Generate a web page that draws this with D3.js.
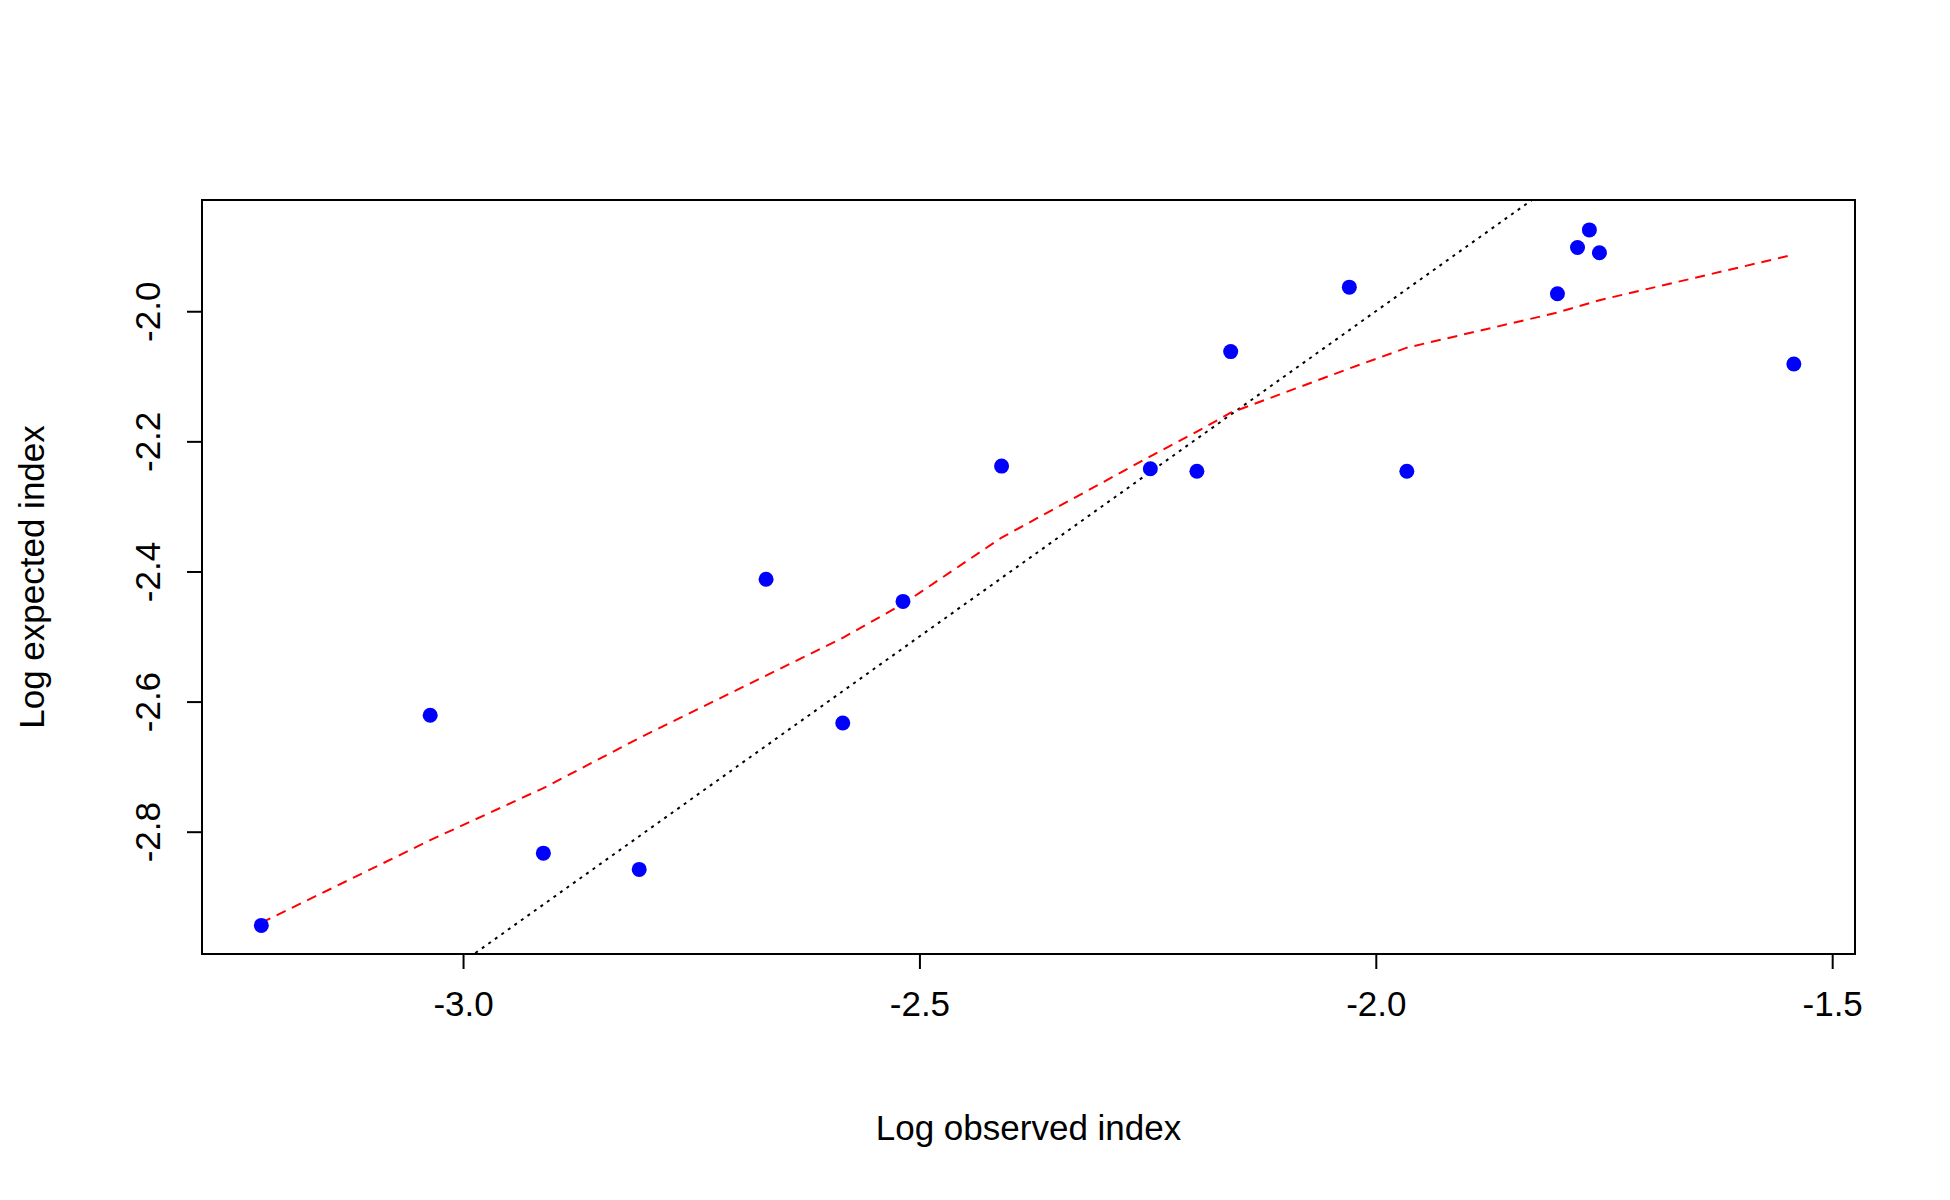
<!DOCTYPE html>
<html><head><meta charset="utf-8">
<script src="https://cdn.jsdelivr.net/npm/d3@7"></script>
<style>body{margin:0;background:#fff}text{font-family:"Liberation Sans",Arial,sans-serif}</style>
</head><body><div id="chart"></div>
<script>
// observed vs expected (log scale)
var obsX = [-3.221,-3.036,-2.912,-2.807,-2.668,-2.584,-2.518,-2.410,-2.247,-2.196,-2.159,-2.029,-1.966,-1.801,-1.779,-1.766,-1.755,-1.542];
var expY = [-2.944,-2.621,-2.833,-2.858,-2.412,-2.633,-2.446,-2.238,-2.242,-2.246,-2.062,-1.963,-2.246,-1.973,-1.902,-1.875,-1.910,-2.081];
// smoothed fit
var fitX = [-3.221,-3.036,-2.912,-2.807,-2.668,-2.584,-2.518,-2.410,-2.247,-2.196,-2.159,-2.029,-1.966,-1.801,-1.755,-1.542];
var fitY = [-2.940,-2.813,-2.733,-2.656,-2.560,-2.502,-2.450,-2.348,-2.223,-2.185,-2.156,-2.088,-2.056,-2.002,-1.983,-1.913];
var xTicks = [-3.0,-2.5,-2.0,-1.5];
var yTicks = [-2.8,-2.6,-2.4,-2.2,-2.0];

var width = 1950, height = 1200;
var mLeft = 202, mRight = 1855, mTop = 200, mBottom = 954;
var fmt = function(d){ return d.toFixed(1); };

var svg = d3.select("#chart").append("svg").attr("width", width).attr("height", height);
var x = d3.scaleLinear().domain([-3.286,-1.475]).range([mLeft,mRight]);
var y = d3.scaleLinear().domain([-2.988,-1.829]).range([mBottom,mTop]);

svg.append("defs").append("clipPath").attr("id","clip")
  .append("rect").attr("x",mLeft).attr("y",mTop).attr("width",mRight-mLeft).attr("height",mBottom-mTop);

//identity line
svg.append("line").attr("clip-path","url(#clip)")
  .attr("x1",x(-4)).attr("y1",y(-4)).attr("x2",x(-1)).attr("y2",y(-1))
  .attr("stroke","black").attr("stroke-width",2).attr("stroke-dasharray","3,5");

svg.append("path").datum(fitX.map(function(d,i){return [d,fitY[i]];}))
  .attr("d", d3.line().x(function(d){return x(d[0]);}).y(function(d){return y(d[1]);}))
  .attr("fill","none").attr("stroke","red").attr("stroke-width",2).attr("stroke-dasharray","10,7");

svg.selectAll("circle").data(obsX).enter().append("circle")
  .attr("cx", function(d){return x(d);})
  .attr("cy", function(d,i){return y(expY[i]);})
  .attr("r",7.5).attr("fill","blue");

svg.append("rect").attr("x",mLeft).attr("y",mTop).attr("width",mRight-mLeft).attr("height",mBottom-mTop)
  .attr("fill","none").attr("stroke","black").attr("stroke-width",2);

var xa = svg.append("g").attr("transform","translate(0,"+mBottom+")")
  .call(d3.axisBottom(x).tickValues(xTicks).tickFormat(fmt).tickSize(15).tickPadding(22));
var ya = svg.append("g").attr("transform","translate("+mLeft+",0)")
  .call(d3.axisLeft(y).tickValues(yTicks).tickFormat(fmt).tickSize(15));
[xa,ya].forEach(function(a){
  a.select(".domain").remove();
  a.selectAll("line").attr("stroke-width",2);
  a.selectAll("text").attr("font-size",35).attr("fill","black").style("font-family","Liberation Sans, Arial");
});
// x axis line between first and last tick
svg.append("line").attr("x1",x(-3.0)).attr("x2",x(-1.5)).attr("y1",mBottom).attr("y2",mBottom)
  .attr("stroke","black").attr("stroke-width",2);
// y axis line between first and last tick
svg.append("line").attr("x1",mLeft-0).attr("x2",mLeft).attr("y1",y(-2.8)).attr("y2",y(-2.0))
  .attr("stroke","black").attr("stroke-width",2);
// rotated y tick labels
ya.selectAll(".tick text").attr("x",null).attr("dy",null).attr("text-anchor","middle")
  .attr("transform","translate(-42,0) rotate(-90)");

svg.append("text").attr("x",(mLeft+mRight)/2).attr("y",1140).attr("text-anchor","middle")
  .attr("font-size",35).text("Log observed index");
svg.append("text").attr("transform","translate(44,"+((mTop+mBottom)/2)+") rotate(-90)")
  .attr("text-anchor","middle").attr("font-size",35).text("Log expected index");
</script></body></html>
